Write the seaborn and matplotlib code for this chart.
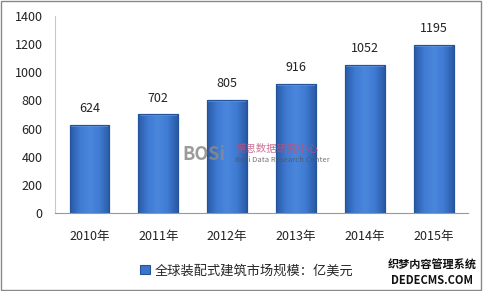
import matplotlib
matplotlib.use("Agg")
import matplotlib.pyplot as plt
import seaborn as sns
import pandas as pd
import numpy as np
from matplotlib.patches import Rectangle
from matplotlib.colors import LinearSegmentedColormap

years = ["2010年", "2011年", "2012年", "2013年", "2014年", "2015年"]
values = [624, 702, 805, 916, 1052, 1195]
series_name = "全球装配式建筑市场规模：亿美元"
yticks = [0, 200, 400, 600, 800, 1000, 1200, 1400]

sns.set_style("white")
plt.rcParams['font.family'] = ['Noto Sans CJK SC', 'DejaVu Sans']

df = pd.DataFrame({"year": years, "value": values})

fig = plt.figure(figsize=(4.83, 2.91), dpi=100)
ax = fig.add_axes([0.114, 0.268, 0.855, 0.677])

sns.barplot(data=df, x="year", y="value", ax=ax, color="#3b74c9",
            width=0.58, edgecolor="#25539a", linewidth=0.8, saturation=1,
            label=series_name)

ax.set_ylim(0, 1400)
ax.set_yticks(yticks)
ax.set_xlim(-0.5, 5.5)

# horizontal gradient shading on each bar
cmap = LinearSegmentedColormap.from_list("barg", ["#2a5aa6", "#3f7bd2", "#4a86dc", "#3f7bd2", "#2a5aa6"])
grad = np.linspace(0, 1, 64).reshape(1, -1)
for patch in ax.patches:
    x0, y0 = patch.get_x(), patch.get_y()
    w, h = patch.get_width(), patch.get_height()
    im = ax.imshow(grad, cmap=cmap, extent=[x0, x0 + w, y0, y0 + h], aspect="auto", zorder=patch.get_zorder() + 0.1)
    im.set_clip_path(patch)
    ax.add_patch(Rectangle((x0 + w * 0.03, y0 + h - 14), w * 0.94, 12, facecolor="#6a9be6",
                           edgecolor="none", alpha=0.6, zorder=patch.get_zorder() + 0.2))
    ax.add_patch(Rectangle((x0, y0), w, h, facecolor="none", edgecolor="#25539a",
                           linewidth=0.8, zorder=patch.get_zorder() + 0.3))
ax.set_xlim(-0.5, 5.5)
ax.set_ylim(0, 1400)

ax.set_xlabel("")
ax.set_ylabel("")
ax.tick_params(axis="both", length=0, labelsize=9, colors="#222222")
ax.tick_params(axis="x", pad=12)
ax.tick_params(axis="y", pad=9)
for s in ["top", "right"]:
    ax.spines[s].set_visible(False)
ax.spines["left"].set_color("#c8c8c8")
ax.spines["left"].set_linewidth(0.8)
ax.spines["bottom"].set_color("#999999")
ax.spines["bottom"].set_linewidth(0.8)

ax.bar_label(ax.containers[0], labels=[str(v) for v in values], padding=7, fontsize=9, color="#222222")

leg = ax.legend(loc="upper center", bbox_to_anchor=(0.465, -0.2), frameon=False,
                fontsize=9.5, handlelength=0.7, handleheight=0.7, handletextpad=0.4)

# watermarks
fig.text(0.377, 0.47, "BOSi", fontsize=13, fontweight="bold", color="#8a8a8a", alpha=0.85, va="center")
fig.text(0.487, 0.49, "博思数据研究中心", fontsize=7.5, color="#c0507a", alpha=0.8, va="center")
fig.text(0.487, 0.45, "Bosi Data Research Center", fontsize=5.5, color="#555555", alpha=0.8, va="center")
fig.text(0.895, 0.09, "织梦内容管理系统", fontsize=8, fontweight="bold", color="#111111", ha="center", va="center")
fig.text(0.895, 0.035, "DEDECMS.COM", fontsize=8, fontweight="bold", color="#111111", ha="center", va="center")

fig.patches.append(Rectangle((0.003, 0.005), 0.993, 0.99, transform=fig.transFigure,
                             fill=False, edgecolor="#888888", linewidth=1.0))

fig.savefig("out.png", dpi=100)
